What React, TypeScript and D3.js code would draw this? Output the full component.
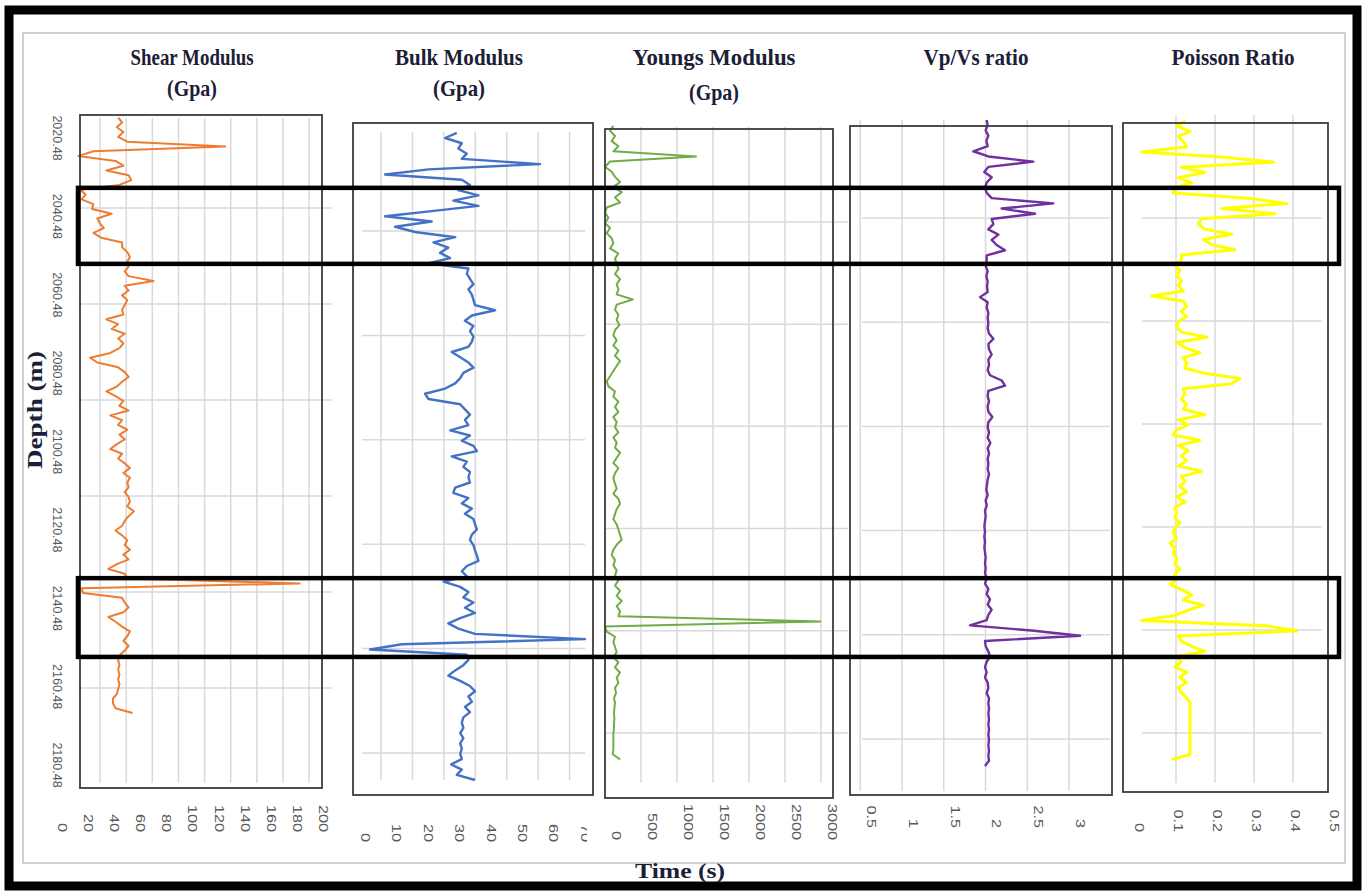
import React from "react";
import * as d3 from "d3";

// depth samples (m), shared by all five logs
const depth = [
  2016.48, 2017.73, 2018.98, 2020.23, 2021.48, 2022.73, 2023.98, 2025.23,
  2026.48, 2027.73, 2028.98, 2030.23, 2031.48, 2032.73, 2033.98, 2035.23,
  2036.48, 2037.73, 2038.98, 2040.23, 2041.48, 2042.73, 2043.98, 2045.23,
  2046.48, 2047.73, 2048.98, 2050.23, 2051.48, 2052.73, 2053.98, 2055.23,
  2056.48, 2057.73, 2058.98, 2060.23, 2061.48, 2062.73, 2063.98, 2065.23,
  2066.48, 2067.73, 2068.98, 2070.23, 2071.48, 2072.73, 2073.98, 2075.23,
  2076.48, 2077.73, 2078.98, 2080.23, 2081.48, 2082.73, 2083.98, 2085.23,
  2086.48, 2087.73, 2088.98, 2090.23, 2091.48, 2092.73, 2093.98, 2095.23,
  2096.48, 2097.73, 2098.98, 2100.23, 2101.48, 2102.73, 2103.98, 2105.23,
  2106.48, 2107.73, 2108.98, 2110.23, 2111.48, 2112.73, 2113.98, 2115.23,
  2116.48, 2117.73, 2118.98, 2120.23, 2121.48, 2122.73, 2123.98, 2125.23,
  2126.48, 2127.73, 2128.98, 2130.23, 2131.48, 2132.73, 2133.98, 2135.23,
  2136.48, 2137.73, 2138.98, 2140.23, 2141.48, 2142.73, 2143.98, 2145.23,
  2146.48, 2147.73, 2148.98, 2150.23, 2151.48, 2152.73, 2153.98, 2155.23,
  2156.48, 2157.73, 2158.98, 2160.23, 2161.48, 2162.73, 2163.98, 2165.23,
  2166.48, 2167.73, 2168.98, 2170.23, 2171.48,
];

const shearModulus = [
  43, 46, 42, 47, 43, 50, 125, 24, 12.5, 41, 47, 34, 51, 53, 44, 14, 18, 15, 24, 23,
  38, 27, 29, 32, 24, 30, 46, 46, 50, 52, 50, 51, 48, 51, 70, 48, 51, 46, 50, 48,
  46, 47, 34, 43, 38, 48, 43, 47, 44, 37, 21.5, 27, 43, 48, 51, 46, 42, 34, 41, 47,
  44, 51, 37, 46, 43, 50, 44, 48, 42, 37, 46, 43, 48, 52, 47, 52, 50, 51, 48, 51,
  52, 50, 55, 51, 48, 46, 41, 46, 50, 48, 52, 47, 51, 42, 35.5, 48, 50, 182, 15, 16,
  46, 48, 51, 47, 35.5, 41, 46, 52, 50, 47, 51, 48, 44, 43, 44, 43, 44, 43, 44, 43,
  42, 39, 39, 41, 54,
];

const bulkModulus = [
  29.2, 25.5, 30.8, 29.7, 32.4, 30.8, 55.7, 20.2, 6.4, 30.8, 33.4, 29.7, 36.1, 28.1, 36.1, 21.2, 6.4, 21.2, 9.6, 15.9,
  28.7, 21.8, 26.5, 23.9, 27.1, 20.2, 32.9, 32.4, 33.4, 34.5, 32.9, 34, 34.5, 35, 41.4, 34, 31.8, 34.5, 33.4, 34.5,
  34, 32.9, 27.6, 30.3, 32.9, 34.5, 31.3, 30.3, 28.7, 25.5, 19.1, 20.2, 30.3, 31.8, 33.4, 31.8, 32.9, 27.1, 33.4, 30.8,
  34.5, 35.6, 27.6, 32.4, 31.3, 33.4, 32.9, 33.4, 28.7, 28.1, 32.9, 30.8, 34, 31.8, 34.5, 35, 35.6, 34, 33.4, 34.5,
  35, 35.6, 36.1, 32.4, 30.8, 32.4, 25, 30.3, 32.9, 31.3, 34.5, 31.8, 35, 30.3, 26.5, 29.7, 35, 70, 11.7, 1.6,
  32.4, 32.9, 31.3, 28.7, 26.5, 30.3, 33.4, 35, 32.9, 34, 31.8, 33.4, 31.3, 30.8, 31.3, 30.3, 31.3, 30.3, 30.8, 30.3,
  30.8, 27.4, 30.8, 29.2, 35,
];

const youngsModulus = [
  116, 70, 139, 93, 186, 116, 1264, 70, 0, 93, 139, 209, 116, 232, 139, 209, 24, 0, 47, 0,
  70, 24, 93, 116, 70, 186, 139, 162, 186, 139, 209, 162, 186, 162, 385, 162, 139, 186, 162, 200,
  139, 116, 162, 116, 186, 139, 209, 162, 116, 70, 24, 47, 139, 116, 186, 139, 186, 116, 162, 139,
  186, 116, 162, 139, 209, 162, 116, 186, 139, 116, 139, 162, 116, 186, 209, 162, 139, 116, 162, 186,
  209, 232, 162, 116, 93, 139, 116, 162, 139, 186, 139, 209, 162, 232, 162, 209, 186, 2990, 0, 24,
  139, 116, 139, 162, 116, 186, 139, 209, 162, 186, 139, 153, 125, 139, 130, 125, 130, 125, 125, 116,
  116, 116, 116, 107, 209,
];

const vpVsRatio = [
  2.014, 2.026, 2.002, 2.034, 2.01, 2.026, 1.854, 2.034, 2.573, 2.034, 1.986, 2.074, 2.014, 1.994, 2.014, 2.074, 2.812, 2.194, 2.593, 2.074,
  2.094, 2.034, 2.154, 2.074, 2.134, 2.234, 2.014, 2.014, 2.002, 2.026, 2.01, 2.026, 2.018, 2.026, 1.934, 2.026, 2.014, 2.034, 2.026, 2.034,
  2.026, 2.042, 2.094, 2.034, 2.042, 2.074, 2.034, 2.042, 2.026, 2.054, 2.194, 2.234, 2.034, 2.026, 2.042, 2.026, 2.034, 2.082, 2.034, 2.026,
  2.042, 2.026, 2.058, 2.026, 2.042, 2.026, 2.034, 2.026, 2.042, 2.026, 2.018, 2.01, 2.026, 2.002, 2.014, 1.994, 2.002, 1.994, 1.986, 1.994,
  1.986, 1.994, 1.986, 1.994, 2.002, 1.994, 2.002, 1.994, 2.014, 1.994, 2.034, 2.014, 2.054, 2.026, 2.074, 2.034, 2.014, 1.814, 2.553, 3.132,
  1.994, 2.002, 2.034, 2.054, 2.014, 1.994, 2.014, 1.994, 2.026, 2.034, 2.014, 2.042, 2.034, 2.042, 2.034, 2.042, 2.034, 2.042, 2.034, 2.042,
  2.034, 2.042, 2.034, 2.042, 1.994,
];

const poissonRatio = [
  0.123, 0.102, 0.136, 0.106, 0.119, 0.127, 0.012, 0.217, 0.35, 0.114, 0.174, 0.106, 0.14, 0.097, 0.093, 0.285, 0.384, 0.217, 0.354, 0.166,
  0.157, 0.174, 0.243, 0.17, 0.191, 0.251, 0.114, 0.114, 0.097, 0.11, 0.102, 0.114, 0.106, 0.119, 0.038, 0.119, 0.127, 0.114, 0.127, 0.106,
  0.102, 0.114, 0.179, 0.102, 0.123, 0.161, 0.119, 0.127, 0.123, 0.174, 0.264, 0.243, 0.119, 0.123, 0.114, 0.127, 0.119, 0.174, 0.106, 0.131,
  0.102, 0.093, 0.161, 0.106, 0.131, 0.114, 0.127, 0.106, 0.166, 0.114, 0.123, 0.11, 0.127, 0.102, 0.123, 0.097, 0.102, 0.097, 0.11, 0.097,
  0.093, 0.102, 0.085, 0.097, 0.093, 0.102, 0.097, 0.11, 0.097, 0.102, 0.085, 0.114, 0.14, 0.119, 0.17, 0.131, 0.097, 0.012, 0.328, 0.41,
  0.106, 0.114, 0.14, 0.174, 0.102, 0.114, 0.097, 0.127, 0.11, 0.127, 0.106, 0.114, 0.127, 0.136, 0.136, 0.136, 0.136, 0.136, 0.136, 0.136,
  0.136, 0.136, 0.136, 0.136, 0.089,
];

// axis ticks
const depthTickLabels = ["2020.48", "2040.48", "2060.48", "2080.48", "2100.48", "2120.48", "2140.48", "2160.48", "2180.48"];
const gridDepths = [2040, 2065, 2090, 2115, 2140, 2165];
const shearTicks = [0, 20, 40, 60, 80, 100, 120, 140, 160, 180, 200];
const bulkTicks = [0, 10, 20, 30, 40, 50, 60, 70];
const youngsTicks = [0, 500, 1000, 1500, 2000, 2500, 3000];
const vpVsTicks = [0.5, 1, 1.5, 2, 2.5, 3];
const poissonTicks = [0, 0.1, 0.2, 0.3, 0.4, 0.5];

// highlighted intervals (on the depth label axis)
const zones = [
  [2033.2, 2052.6],
  [2132.8, 2152.9],
];

const panels = [
  {
    title: ["Shear Modulus", "(Gpa)"], titleX: 192, titleW: [123, 50],
    values: shearModulus, color: "#ED7D31", width: 2,
    domain: [0, 200], range: [62, 323.2], yRange: [117.7, 713],
    frame: { x: 80, y: 115, w: 242, h: 673 },
    ticks: shearTicks, grid: [20, 40, 60, 80, 100, 120, 140, 160, 180], gridShift: 12, labelShift: 0, labelEnd: 832,
    vgrid: [118, 783], hgrid: [78, 332],
  },
  {
    title: ["Bulk Modulus", "(Gpa)"], titleX: 459, titleW: [128, 52],
    values: bulkModulus, color: "#4472C4", width: 2.4,
    domain: [0, 70], range: [365, 585], yRange: [132.8, 780],
    frame: { x: 353, y: 123, w: 240, h: 672 },
    ticks: bulkTicks, grid: [0, 10, 20, 30, 40, 50, 60], gridShift: 16, labelShift: 0, labelEnd: 842,
    vgrid: [132, 780], hgrid: [362, 585], clipRight: 587,
  },
  {
    title: ["Youngs Modulus", "(Gpa)"], titleX: 714, titleW: [163, 50],
    values: youngsModulus, color: "#70AD47", width: 2,
    domain: [0, 3000], range: [605, 821], yRange: [125.8, 759.4],
    frame: { x: 605, y: 129, w: 228, h: 669 },
    ticks: youngsTicks, grid: [500, 1000, 1500, 2000, 2500, 3000], gridShift: 0, labelShift: 11, labelEnd: 840,
    vgrid: [127, 783], hgrid: [605, 848],
  },
  {
    title: ["Vp/Vs ratio"], titleX: 976, titleW: [105],
    values: vpVsRatio, color: "#7030A0", width: 2.4,
    domain: [1, 3], range: [902, 1069], yRange: [120, 766],
    frame: { x: 850, y: 126, w: 262, h: 669 },
    ticks: vpVsTicks, grid: [0.5, 1, 1.5, 2, 2.5, 3], gridShift: 0, labelShift: 11, labelEnd: 828,
    vgrid: [120, 791], hgrid: [862, 1110],
  },
  {
    title: ["Poisson Ratio"], titleX: 1233, titleW: [123],
    values: poissonRatio, color: "#FFFF00", width: 3,
    domain: [0, 0.5], range: [1137, 1332], yRange: [121, 759.6],
    frame: { x: 1123, y: 123, w: 205, h: 669 },
    ticks: poissonTicks, grid: [0.1, 0.2, 0.3, 0.4], gridShift: 0, labelShift: 2, labelEnd: 832,
    vgrid: [115, 783], hgrid: [1142, 1322],
  },
];

const titleColor = "#1b2036";
const serif = "'Liberation Serif', 'Times New Roman', serif";

function Panel({ p, idx }) {
  const x = d3.scaleLinear().domain(p.domain).range(p.range);
  const y = d3.scaleLinear().domain([depth[0], depth[depth.length - 1]]).range(p.yRange);
  const path = d3
    .line()
    .x((v) => x(v))
    .y((v, i) => y(depth[i]))(p.values);

  return (
    <g>
      {/* grid */}
      <g stroke="#d9d9d9" strokeWidth={1.5}>
        {p.grid.map((t) => (
          <line key={"v" + t} x1={x(t) + p.gridShift} x2={x(t) + p.gridShift} y1={p.vgrid[0]} y2={p.vgrid[1]} />
        ))}
        {gridDepths.map((d) => (
          <line key={"h" + d} x1={p.hgrid[0]} x2={p.hgrid[1]} y1={y(d)} y2={y(d)} />
        ))}
      </g>
      <path d={path} fill="none" stroke={p.color} strokeWidth={p.width} strokeLinejoin="round" />
      <rect x={p.frame.x} y={p.frame.y} width={p.frame.w} height={p.frame.h} fill="none" stroke="#3c3c3c" strokeWidth={1.8} />

      {/* tick labels */}
      <defs>
        <clipPath id={"lab" + idx}>
          <rect x={0} y={790} width={p.clipRight || 1366} height={80} />
        </clipPath>
      </defs>
      <g clipPath={`url(#lab${idx})`} fill="#595959" fontSize={12} fontFamily="'Liberation Sans', Arial, sans-serif">
        {p.ticks.map((t) => (
          <text
            key={t}
            transform={`translate(${x(t) + p.labelShift},${p.labelEnd}) rotate(90) scale(1.35,1)`}
            textAnchor="end"
            dominantBaseline="central"
          >
            {String(t)}
          </text>
        ))}
      </g>

      {/* title */}
      {p.title.map((s, k) => (
        <text
          key={s}
          x={p.titleX}
          y={k === 0 ? 65 : idx === 2 ? 100 : 96}
          textAnchor="middle"
          fontFamily={serif}
          fontWeight="bold"
          fontSize={23}
          fill={titleColor}
          textLength={p.titleW[k]}
          lengthAdjust="spacingAndGlyphs"
        >
          {s}
        </text>
      ))}
    </g>
  );
}

export default function App() {
  const W = 1366;
  const H = 892;
  const depthAxis = d3.scaleLinear().domain([2020.48, 2180.48]).range([138, 765]);

  return (
    <svg width={W} height={H} style={{ position: "absolute", left: 0, top: 0 }}>
      <rect x={0} y={0} width={W} height={H} fill="#fff" />
      <rect x={9} y={10} width={1348} height={876} fill="none" stroke="#000" strokeWidth={9} />
      <rect x={23} y={33} width={1322} height={830} fill="none" stroke="#c4c4c4" strokeWidth={1.5} />

      {panels.map((p, i) => (
        <Panel key={i} p={p} idx={i} />
      ))}

      {/* depth axis labels */}
      <g fill="#595959" fontSize={12.5} fontFamily="'Liberation Sans', Arial, sans-serif">
        {depthTickLabels.map((s) => (
          <text
            key={s}
            transform={`translate(57,${depthAxis(parseFloat(s))}) rotate(90)`}
            textAnchor="middle"
            dominantBaseline="central"
          >
            {s}
          </text>
        ))}
      </g>

      {/* highlighted zones */}
      {zones.map(([a, b], i) => (
        <rect
          key={i}
          x={78}
          y={depthAxis(a)}
          width={1261}
          height={depthAxis(b) - depthAxis(a)}
          fill="none"
          stroke="#000"
          strokeWidth={4.5}
        />
      ))}

      <text
        transform="translate(35,410) rotate(-90)"
        textAnchor="middle"
        dominantBaseline="central"
        fontFamily={serif}
        fontWeight="bold"
        fontSize={20}
        fill={titleColor}
        textLength={118}
        lengthAdjust="spacingAndGlyphs"
      >
        Depth (m)
      </text>
      <text
        x={680}
        y={878}
        textAnchor="middle"
        fontFamily={serif}
        fontWeight="bold"
        fontSize={22}
        fill={titleColor}
        textLength={90}
        lengthAdjust="spacingAndGlyphs"
      >
        Time (s)
      </text>
    </svg>
  );
}
